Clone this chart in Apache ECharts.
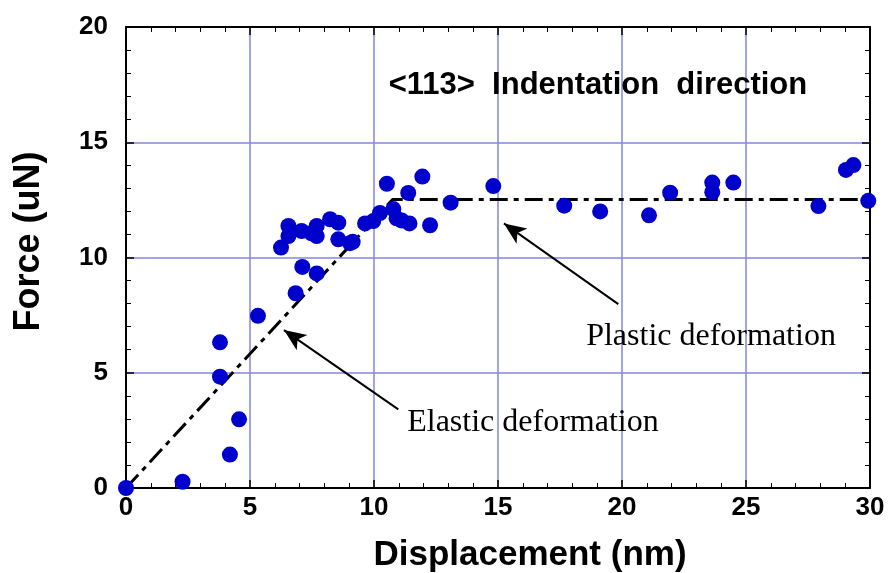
<!DOCTYPE html>
<html><head><meta charset="utf-8">
<script src="https://cdn.jsdelivr.net/npm/echarts@6/dist/echarts.min.js"></script>
<style>html,body{margin:0;padding:0;background:#fff}#c{width:891px;height:573px}</style>
</head><body><div id="c"></div>
<script>
// Measured points
var dispX = [0, 2.28, 3.79, 3.79, 4.19, 4.56, 5.32, 6.25, 6.55, 6.55, 6.84, 7.11, 7.08, 7.48, 7.69, 7.69, 7.69, 8.23, 8.56, 8.56, 9.03, 9.14, 9.64, 9.97, 10.24, 10.52, 10.78, 10.91, 11.12, 11.43, 11.38, 11.95, 12.26, 13.09, 14.81, 17.67, 19.12, 21.09, 21.94, 23.64, 23.64, 24.49, 27.92, 29.03, 29.33, 29.93];
var forceY = [0, 0.27, 6.32, 4.83, 1.45, 2.98, 7.47, 10.43, 10.93, 11.37, 8.45, 9.59, 11.15, 11.05, 9.31, 10.93, 11.37, 11.66, 11.51, 10.79, 10.62, 10.68, 11.48, 11.58, 11.93, 13.2, 12.1, 11.7, 11.6, 11.48, 12.8, 13.51, 11.40, 12.38, 13.10, 12.25, 12.0, 11.83, 12.81, 13.25, 12.83, 13.25, 12.23, 13.80, 14.01, 12.46];
// Fit (elastic + plastic)
var fitX = [0, 10.75, 30];
var fitY = [0, 12.52, 12.52];
// Annotations [x, y] in data units
var elasticArrowTail = [10.98, 3.41], elasticArrowTip = [6.37, 6.85];
var plasticArrowTail = [19.85, 7.98], plasticArrowTip = [15.24, 11.48];
var titleText = '<113>  Indentation  direction', titlePos = [19.03, 17.48];
var elasticText = 'Elastic deformation', elasticPos = [16.41, 2.82];
var plasticText = 'Plastic deformation', plasticPos = [23.59, 6.55];
var xTicks = [0, 5, 10, 15, 20, 25, 30];
var yTicks = [0, 5, 10, 15, 20];

var chart = echarts.init(document.getElementById('c'), null, {renderer: 'canvas'});
var sans = '"Liberation Sans", Arial, sans-serif';
var serif = '"Liberation Serif", "Times New Roman", serif';
var gridColor = '#8585e6';
function axisBase(extra) {
  return Object.assign({
    type: 'value', min: 0, interval: 5,
    axisLine: {show: true, onZero: false, lineStyle: {color: '#000', width: 2}},
    axisTick: {show: true, inside: true, length: 8, lineStyle: {color: '#000', width: 1.5}},
    minorTick: {show: true, splitNumber: 5, length: 5, lineStyle: {color: '#000', width: 1}},
    splitLine: {show: false}
  }, extra);
}
function label(text, pos, font, size, weight) {
  return {
    type: 'scatter', data: [pos], symbolSize: 0, silent: true, z: 5,
    itemStyle: {opacity: 1},
    label: {show: true, position: 'inside', formatter: text, color: '#000', opacity: 1,
      fontFamily: font, fontSize: size, fontWeight: weight}
  };
}
var option = {
  animation: false,
  backgroundColor: '#fff',
  grid: {left: 126, right: 21, top: 27, bottom: 85, outerBoundsMode: 'none', containLabel: false},
  xAxis: [
    axisBase({max: xTicks[xTicks.length-1], position: 'bottom',
      name: 'Displacement (nm)', nameLocation: 'middle', nameGap: 50,
      nameTextStyle: {fontFamily: sans, fontWeight: 'bold', fontSize: 35, color: '#000', padding: [0, 0, 0, 64]},
      axisLabel: {margin: 7, color: '#000', fontFamily: sans, fontWeight: 'bold', fontSize: 26},
      splitLine: {show: true, lineStyle: {color: gridColor, width: 1.5}}}),
    axisBase({max: xTicks[xTicks.length-1], position: 'top', axisLabel: {show: false}})
  ],
  yAxis: [
    axisBase({max: yTicks[yTicks.length-1], position: 'left',
      name: 'Force (uN)', nameLocation: 'middle', nameGap: 79,
      nameTextStyle: {fontFamily: sans, fontWeight: 'bold', fontSize: 36, color: '#000', padding: [0, 0, 0, 32]},
      axisLabel: {margin: 18, color: '#000', fontFamily: sans, fontWeight: 'bold', fontSize: 26},
      splitLine: {show: true, lineStyle: {color: gridColor, width: 1.5}}}),
    axisBase({max: yTicks[yTicks.length-1], position: 'right', axisLabel: {show: false}})
  ],
  series: [
    {
      type: 'line', data: fitX.map(function(x, i){return [x, fitY[i]];}),
      symbol: 'none', z: 3, silent: true,
      lineStyle: {color: '#000', width: 3, type: [18, 6, 5, 6]},
      markLine: {
        silent: true, symbol: ['none', 'arrow'], symbolSize: [14, 22],
        label: {show: false},
        lineStyle: {color: '#000', width: 2, type: 'solid'},
        data: [
          [{coord: elasticArrowTail}, {coord: elasticArrowTip}],
          [{coord: plasticArrowTail}, {coord: plasticArrowTip}]
        ]
      }
    },
    {
      type: 'scatter', z: 4, symbol: 'circle', symbolSize: 16,
      itemStyle: {color: '#0000cc', opacity: 1},
      data: dispX.map(function(x, i){return [x, forceY[i]];})
    },
    label(titleText, titlePos, sans, 31, 'bold'),
    label(elasticText, elasticPos, serif, 32, 'normal'),
    label(plasticText, plasticPos, serif, 32, 'normal')
  ]
};
chart.setOption(option);
</script></body></html>
